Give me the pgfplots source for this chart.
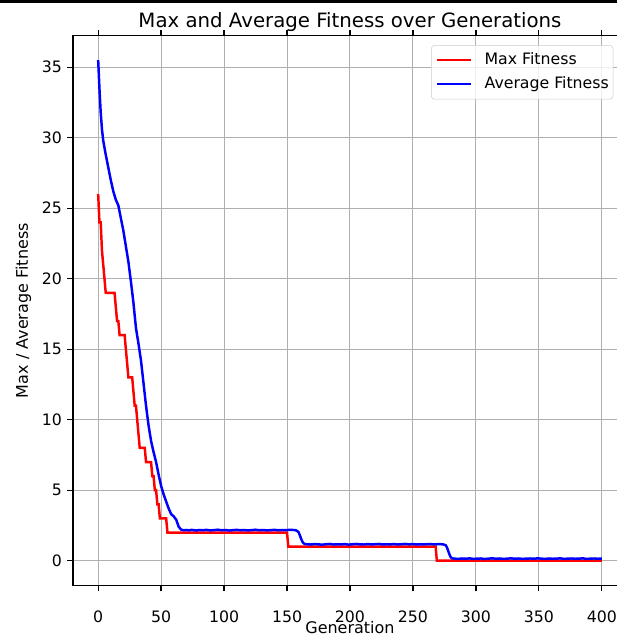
\documentclass[border=0pt]{standalone}
\usepackage{pgfplots}
\pgfplotsset{compat=1.18}
\usepackage{fontspec}
\setmainfont{DejaVu Sans}
\begin{document}
\begin{tikzpicture}
\useasboundingbox (-54.75pt,-36.98pt) rectangle (408pt,439.28pt);
\clip (-54.75pt,-36.98pt) rectangle (408pt,439.28pt);
\fill[black] (-54.75pt,437.0pt) rectangle (408pt,439.28pt);
\begin{axis}[
  at={(0,0)}, anchor=south west,
  scale only axis, width=415.5pt, height=412.5pt,
  xmin=-20, xmax=420, ymin=-1.77, ymax=37.23,
  xtick={0,50,...,400}, ytick={0,5,...,35},
  grid=major, grid style={color=black!31, line width=0.75pt},
  axis line style={line width=0.95pt},
  tick align=outside, major tick length=4.3pt,
  tick style={black, line width=0.95pt},
  /pgf/number format/assume math mode=true,
  tick label style={font=\fontsize{11.8}{14}\selectfont},
  xticklabel style={anchor=base, inner sep=0pt, text depth=0pt, yshift=-23.5pt},
  yticklabel style={anchor=east, inner sep=0pt, xshift=-3.8pt},
  title={Max and Average Fitness over Generations},
  title style={at={(axis description cs:0.5,1)}, anchor=base, yshift=-0.2pt, font=\fontsize{14.8}{17}\selectfont},
  xlabel={Generation},
  xlabel style={at={(axis description cs:0.5,0)}, anchor=base, inner sep=0pt, text height=8.8pt, text depth=0pt, yshift=-35.5pt, font=\fontsize{12}{14}\selectfont},
  ylabel={Max / Average Fitness},
  ylabel style={at={([xshift=-33.75pt]axis description cs:0,0.5)}, anchor=base, inner sep=0pt, font=\fontsize{12}{14}\selectfont},
  legend style={at={(axis description cs:0.9753,0.983)}, anchor=north east,
    draw=black!20, rounded corners=2.5pt, fill=white, fill opacity=0.8, draw opacity=1, text opacity=1,
    inner xsep=3.2pt, inner ysep=5.6pt, row sep=6.8pt,
    font=\fontsize{11.8}{14}\selectfont,
    nodes={inner sep=0pt, text height=8.7pt, text depth=2.5pt}},
  legend cell align=left,
  legend image code/.code={\draw[#1] (0pt,0pt) -- (26pt,0pt); \path (35pt,0pt);},
]
\addplot[red, line width=1.85pt] coordinates {
(0,26) (1,24) (2,24) (3,22) (4,21) (5,20) (6,19) (13,19) (14,18) (15,17) (16,17) (17,16) (21,16) (22,15) (23,14) (24,13) (27,13) (28,12) (29,11) (30,11) (31,10) (32,9) (33,8) (37,8) (38,7) (42,7) (43,6) (44,6) (45,5) (46,5) (47,4) (48,4) (49,3) (54,3) (55,2) (150,2) (151,1) (268,1) (269,0) (400,0)
};
\addlegendentry{Max Fitness}
\addplot[blue, line width=1.85pt] coordinates {
(0,35.5) (1,33.5) (2,31.8) (3,30.6) (4,29.8) (6,28.8) (8,27.9) (10,27.0) (12,26.2) (14,25.6) (16,25.2) (18,24.3) (20,23.4) (22,22.3) (24,21.2) (26,19.8) (28,18.3) (30,16.5) (32,15.4) (34,14.2) (36,12.6) (38,11.0) (40,9.6) (42,8.5) (44,7.7) (46,7.0) (48,6.1) (50,5.3) (52,4.7) (54,4.2) (56,3.7) (58,3.3) (60,3.15) (62,2.9) (64,2.4) (66,2.2)
(68,2.16) (70,2.18) (72,2.15) (74,2.19) (76,2.17) (78,2.14) (80,2.18) (83,2.16) (86,2.19) (89,2.15) (92,2.17) (95,2.20) (98,2.16) (101,2.18) (104,2.14) (107,2.17) (110,2.19) (113,2.16) (116,2.18) (119,2.15) (122,2.17) (125,2.20) (128,2.16) (131,2.18) (134,2.15) (137,2.17) (140,2.19) (143,2.16) (146,2.18) (149,2.17) (152,2.19) (155,2.18) (157,2.16) (159,2.05) (160,1.85) (161,1.6) (162,1.38) (163,1.25) (164,1.19)
(166,1.17) (169,1.15) (172,1.18) (175,1.16) (178,1.14) (181,1.17) (184,1.19) (187,1.15) (190,1.17) (193,1.16) (196,1.18) (199,1.14) (202,1.17) (205,1.19) (208,1.16) (211,1.15) (214,1.18) (217,1.16) (220,1.17) (223,1.19) (226,1.15) (229,1.17) (232,1.16) (235,1.18) (238,1.15) (241,1.17) (244,1.19) (247,1.16) (250,1.18) (253,1.15) (256,1.17) (259,1.16) (262,1.18) (265,1.17) (268,1.16) (271,1.18) (274,1.16) (276,1.10) (277,0.95) (278,0.7) (279,0.45) (280,0.25) (281,0.17)
(283,0.15) (286,0.13) (289,0.16) (292,0.14) (295,0.17) (298,0.13) (301,0.15) (304,0.16) (307,0.12) (310,0.15) (313,0.17) (316,0.14) (319,0.16) (322,0.13) (325,0.15) (328,0.17) (331,0.14) (334,0.16) (337,0.13) (340,0.15) (343,0.16) (346,0.14) (349,0.17) (352,0.15) (355,0.13) (358,0.16) (361,0.14) (364,0.15) (367,0.17) (370,0.13) (373,0.15) (376,0.16) (379,0.14) (382,0.15) (385,0.17) (388,0.13) (391,0.15) (394,0.16) (397,0.14) (400,0.15)
};
\addlegendentry{Average Fitness}
\end{axis}
\end{tikzpicture}
\end{document}
